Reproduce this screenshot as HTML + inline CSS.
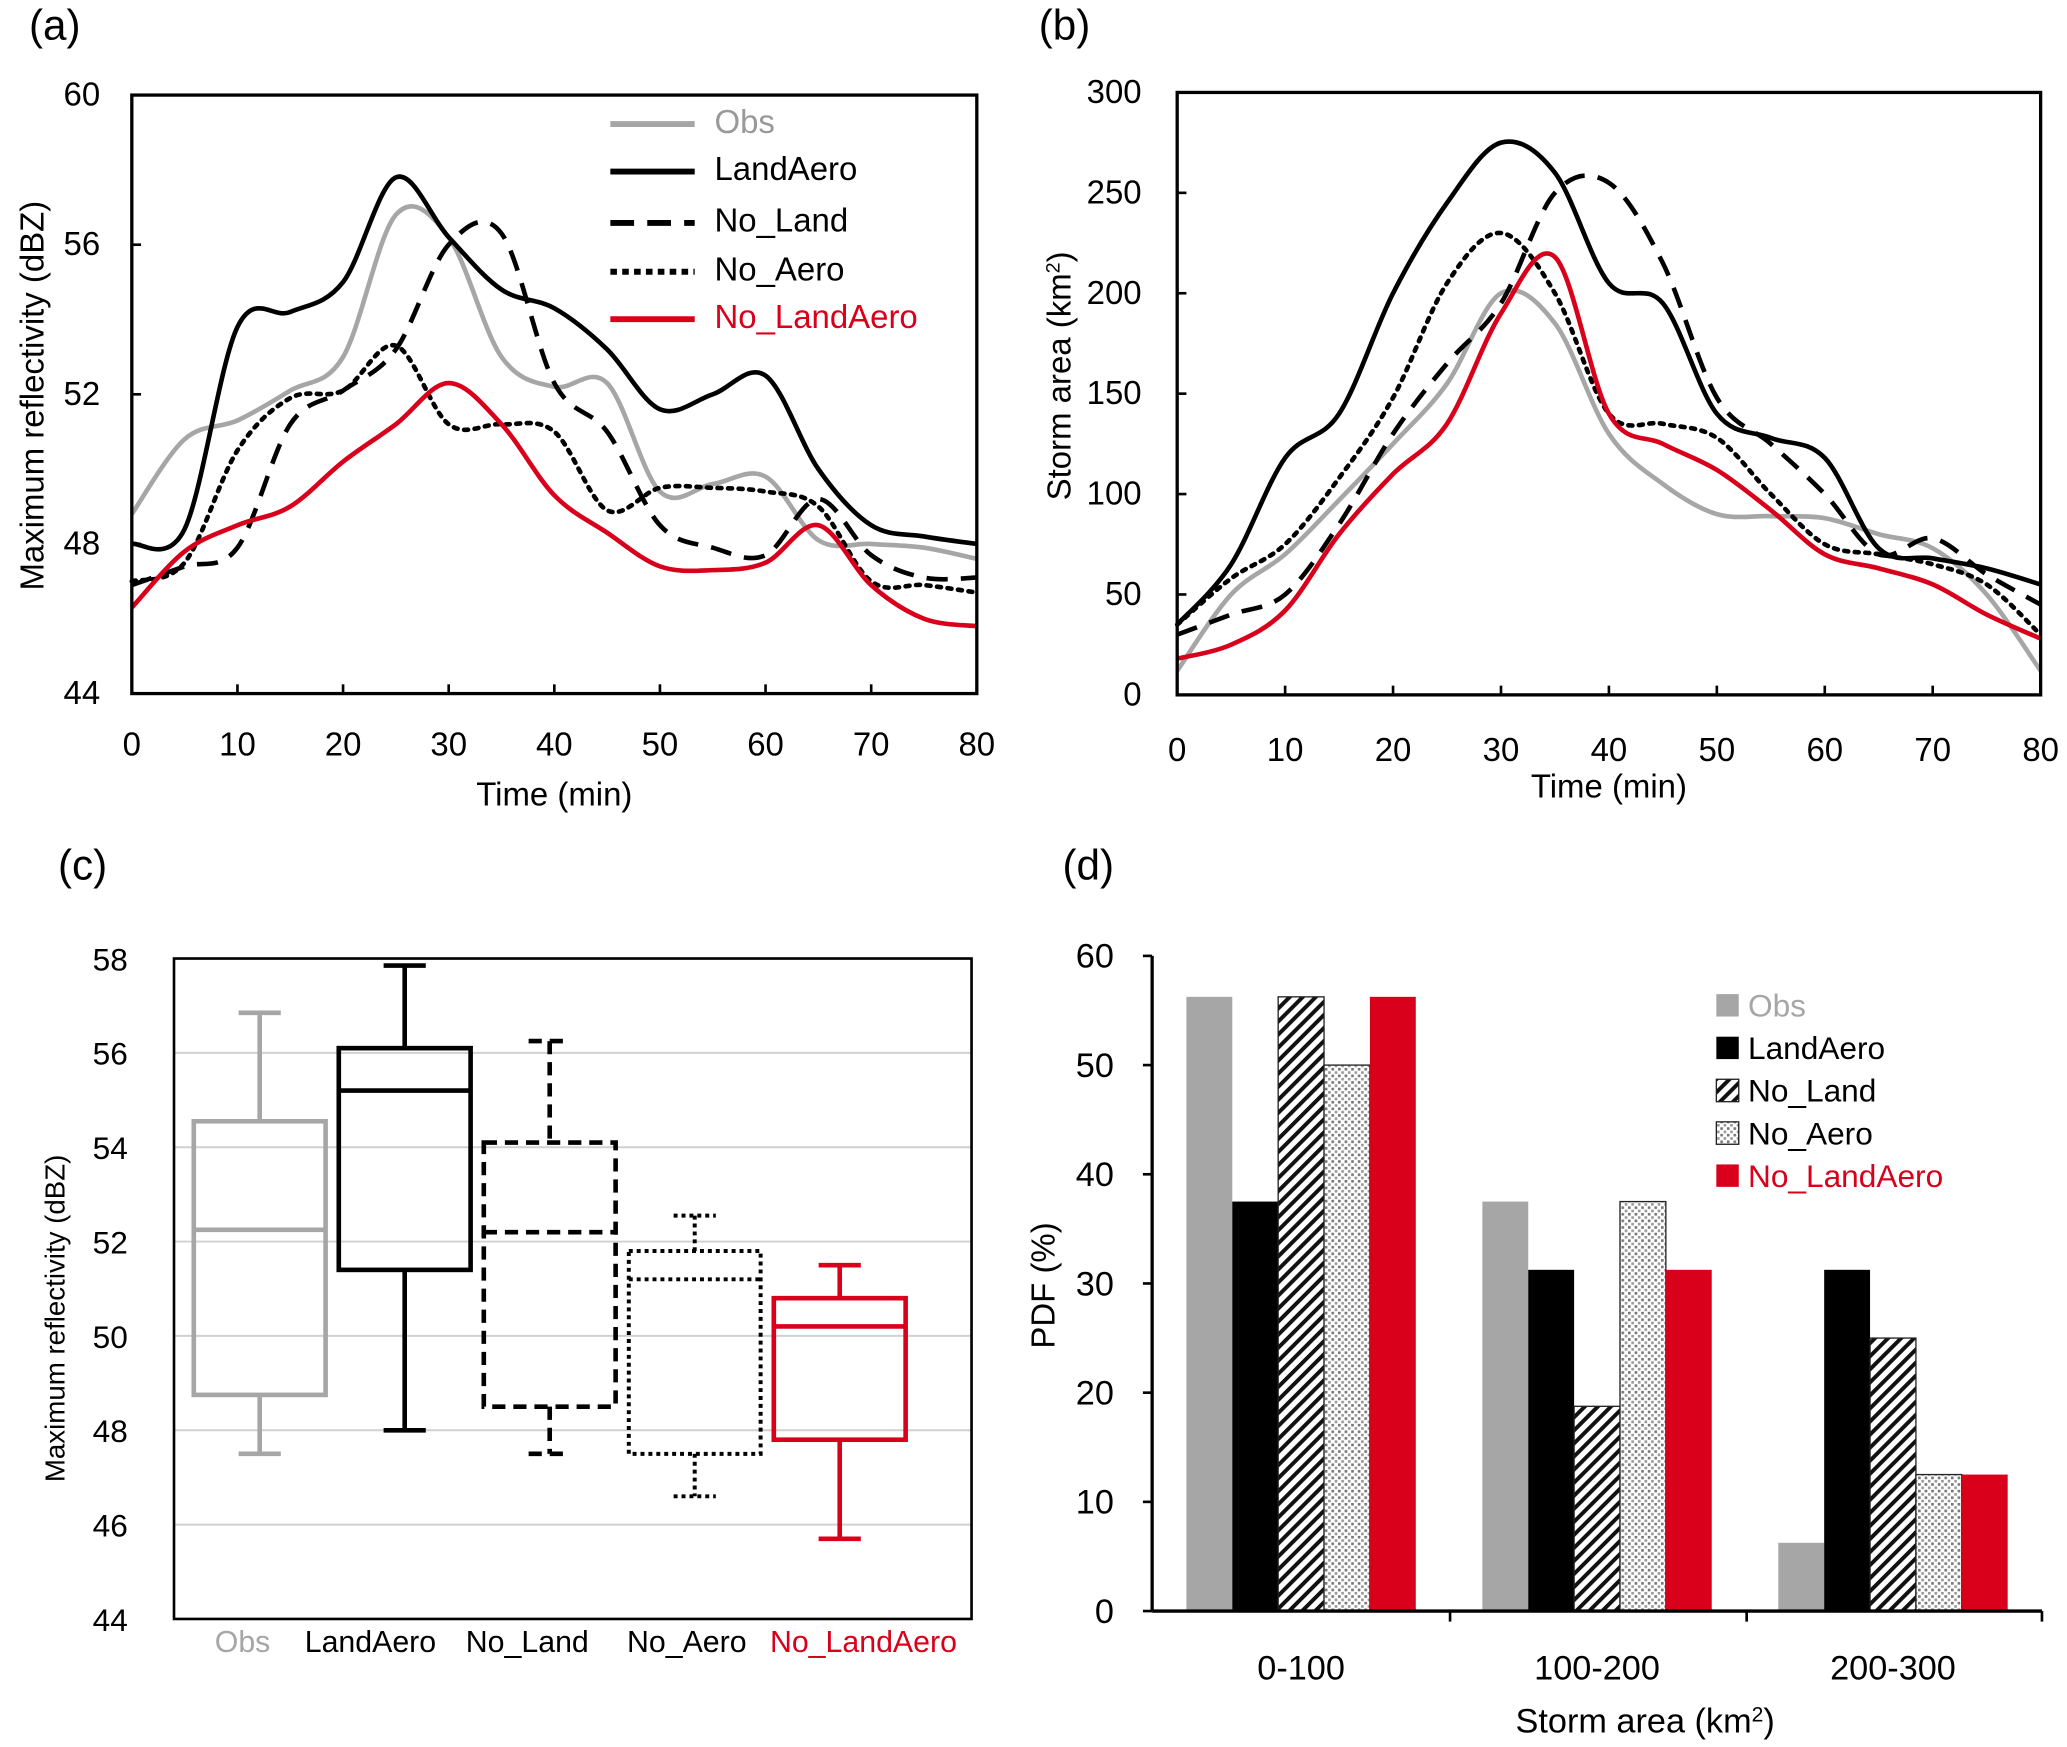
<!DOCTYPE html>
<html><head><meta charset="utf-8"><style>
html,body{margin:0;padding:0;background:#fff}
svg{display:block;font-family:"Liberation Sans",Arial,sans-serif}
</style></head><body>
<svg id="fig" width="2067" height="1747" viewBox="0 0 1568 1325" xmlns="http://www.w3.org/2000/svg">
<defs>
<pattern id="hatch" patternUnits="userSpaceOnUse" width="7" height="7" patternTransform="rotate(45)">
<rect width="7" height="7" fill="#fff"/><rect width="3" height="7" fill="#111"/></pattern>
<pattern id="dots" patternUnits="userSpaceOnUse" width="5" height="5">
<rect width="5" height="5" fill="#fff"/><rect x="0" y="0" width="2" height="2" fill="#777"/><rect x="2.5" y="2.5" width="2" height="2" fill="#999"/></pattern>
</defs>
<g id="gA"></g>
<g id="gB"></g>
<g id="gC"></g>
<g id="gD"></g>
</svg>
<script>
const times = [0,5,10,15,20,25,30,35,40,45,50,55,60,65,70,75,80];
const seriesNames = ["Obs","LandAero","No_Land","No_Aero","No_LandAero"];
const refl_Obs = [48.8,50.8,51.3,52.1,53.0,56.8,56.2,53.0,52.2,52.3,49.4,49.6,49.8,48.1,48.0,47.9,47.6];
const refl_LandAero = [48.0,48.4,53.8,54.2,55.0,57.8,56.2,54.8,54.3,53.2,51.6,52.0,52.5,50.0,48.5,48.2,48.0];
const refl_NoLand = [46.9,47.4,47.9,51.2,52.1,53.2,56.0,56.3,52.3,51.0,48.5,47.9,47.7,49.2,47.7,47.1,47.1];
const refl_NoAero = [47.0,47.5,50.5,51.9,52.1,53.3,51.2,51.2,51.0,48.9,49.5,49.5,49.4,49.0,47.0,46.9,46.7];
const refl_NoLandAero = [46.3,47.8,48.5,49.0,50.2,51.2,52.3,51.2,49.3,48.3,47.4,47.3,47.5,48.5,46.9,46.0,45.8];
const area_Obs = [12,50,70,97,125,155,200,185,130,105,90,89,88,80,73,50,12];
const area_LandAero = [35,65,118,140,200,245,275,260,205,195,140,128,118,73,68,63,55];
const area_NoLand = [30,40,50,85,130,165,195,250,255,215,148,125,100,70,78,60,45];
const area_NoAero = [35,58,75,108,148,205,230,200,140,135,128,100,75,70,65,55,30];
const area_NoLandAero = [18,25,42,80,110,135,190,218,140,125,112,92,70,63,55,40,28];
const boxCats = ["Obs","LandAero","No_Land","No_Aero","No_LandAero"];
const boxMin = [47.5,48.0,47.5,46.6,45.7];
const boxQ1 = [48.75,51.4,48.5,47.5,47.8];
const boxMed = [52.25,55.2,52.2,51.2,50.2];
const boxQ3 = [54.55,56.1,54.1,51.8,50.8];
const boxMax = [56.85,57.85,56.25,52.55,51.5];
const pdfGroups = ["0-100","100-200","200-300"];
const pdf_Obs = [56.25,37.5,6.25];
const pdf_LandAero = [37.5,31.25,31.25];
const pdf_NoLand = [56.25,18.75,25];
const pdf_NoAero = [50,37.5,12.5];
const pdf_NoLandAero = [56.25,31.25,12.5];
const tA = [44,48,52,56,60], tB=[0,50,100,150,200,250,300], tX=[0,10,20,30,40,50,60,70,80];
const tC=[44,46,48,50,52,54,56,58], tD=[0,10,20,30,40,50,60];

const NS="http://www.w3.org/2000/svg";
function mk(p,tag,at,txt){const e=document.createElementNS(NS,tag);for(const k in at)e.setAttribute(k,at[k]);if(txt!==undefined)e.textContent=txt;p.appendChild(e);return e;}
function smooth(pts){let d="M"+pts[0][0]+","+pts[0][1];for(let i=0;i<pts.length-1;i++){const p0=pts[i-1]||pts[i],p1=pts[i],p2=pts[i+1],p3=pts[i+2]||p2;
const c1=[p1[0]+(p2[0]-p0[0])/6,p1[1]+(p2[1]-p0[1])/6],c2=[p2[0]-(p3[0]-p1[0])/6,p2[1]-(p3[1]-p1[1])/6];d+=` C${c1[0]},${c1[1]} ${c2[0]},${c2[1]} ${p2[0]},${p2[1]}`;}return d;}
const styles=[{s:"#a6a6a6",d:""},{s:"#000",d:""},{s:"#000",d:"16 10"},{s:"#000",d:"3 5"},{s:"#d9001b",d:""}];
const names=["obs","landaero","no-land","no-aero","no-landaero"];

function linePanel(g,x0,x1,y0,y1,ymin,ymax,ticks,series,lab,labX,ylab,ylabX,xlabY,xtY,ytX){
 const sx=v=>x0+(v-0)/80*(x1-x0), sy=v=>y1-(v-ymin)/(ymax-ymin)*(y1-y0);
 series.forEach((arr,i)=>{const p=mk(g,"path",{d:smooth(times.map((t,j)=>[sx(t),sy(arr[j])])),fill:"none",stroke:styles[i].s,"stroke-width":3.5,"stroke-dasharray":styles[i].d,"stroke-linecap":i==3?"round":"butt"});
  
  });
 const f=mk(g,"rect",{x:x0,y:y0,width:x1-x0,height:y1-y0,fill:"none",stroke:"#000","stroke-width":2.5});
 
 tX.forEach(t=>{mk(g,"line",{x1:sx(t),x2:sx(t),y1:y1,y2:y1-7,stroke:"#000","stroke-width":2});
  const e=mk(g,"text",{x:sx(t),y:xtY,"font-size":25,"text-anchor":"middle"},t);});
 ticks.forEach(t=>{mk(g,"line",{x1:x0,x2:x0+7,y1:sy(t),y2:sy(t),stroke:"#000","stroke-width":2});
  const e=mk(g,"text",{x:ytX,y:sy(t)+8,"font-size":25,"text-anchor":"end"},t);});
 let e=mk(g,"text",{x:(x0+x1)/2,y:xlabY,"font-size":25,"text-anchor":"middle"},"Time (min)");
 e=mk(g,"text",{x:labX,y:30,"font-size":32},lab);
 return {sx,sy};
}
const gA=document.getElementById("gA"),gB=document.getElementById("gB"),gC=document.getElementById("gC"),gD=document.getElementById("gD");
linePanel(gA,100,741,72,526,44,60,tA,[refl_Obs,refl_LandAero,refl_NoLand,refl_NoAero,refl_NoLandAero],"(a)",22,null,0,611,573,76);
let yt=mk(gA,"text",{transform:"translate(33,300) rotate(-90)","font-size":25,"text-anchor":"middle"},"Maximum reflectivity (dBZ)");

seriesNames.forEach((n,i)=>{const y=[86,122,161,198,234][i];
 const lg=mk(gA,"g",{});
 mk(lg,"line",{x1:463,x2:527,y1:y+8,y2:y+8,stroke:styles[i].s,"stroke-width":4.5,"stroke-dasharray":i==2?"18 10":(i==3?"5 4":"")});
 mk(lg,"text",{x:542,y:y+8,"font-size":25,fill:i==0?"#999":(i==4?"#d9001b":"#000"),"dominant-baseline":"middle"},n);});
linePanel(gB,893,1548,70,527,0,300,tB,[area_Obs,area_LandAero,area_NoLand,area_NoAero,area_NoLandAero],"(b)",788,null,0,605,577,866);
yt=mk(gB,"text",{transform:"translate(812,285) rotate(-90)","font-size":25,"text-anchor":"middle"});
yt.innerHTML='Storm area (km<tspan baseline-shift="super" font-size="15">2</tspan>)';


// panel c
(function(){const x0=132,x1=737,y0=727,y1=1228,sy=v=>y1-(v-44)/14*(y1-y0);
 tC.forEach(t=>{if(t>44&&t<58){const l=mk(gC,"line",{x1:x0,x2:x1,y1:sy(t),y2:sy(t),stroke:"#d0d0d0","stroke-width":1.5});}
  const e=mk(gC,"text",{x:97,y:sy(t)+9,"font-size":24,"text-anchor":"end"},t);});
 const fr=mk(gC,"rect",{x:x0,y:y0,width:x1-x0,height:y1-y0,fill:"none",stroke:"#000","stroke-width":2});
 const cols=["#a6a6a6","#000","#000","#000","#d9001b"],dash=["","","10 6","3 3",""];
 boxCats.forEach((c,i)=>{const cx=197+i*110,g=mk(gC,"g",{stroke:cols[i],"stroke-width":i==3?3:3.5,fill:"none","stroke-dasharray":dash[i]});
  
  mk(g,"rect",{x:cx-50,y:sy(boxQ3[i]),width:100,height:sy(boxQ1[i])-sy(boxQ3[i])});
  mk(g,"line",{x1:cx-50,x2:cx+50,y1:sy(boxMed[i]),y2:sy(boxMed[i])});
  mk(g,"line",{x1:cx,x2:cx,y1:sy(boxMax[i]),y2:sy(boxQ3[i])});
  mk(g,"line",{x1:cx,x2:cx,y1:sy(boxQ1[i]),y2:sy(boxMin[i])});
  mk(g,"line",{x1:cx-16,x2:cx+16,y1:sy(boxMax[i]),y2:sy(boxMax[i])});
  mk(g,"line",{x1:cx-16,x2:cx+16,y1:sy(boxMin[i]),y2:sy(boxMin[i])});
  const e=mk(gC,"text",{x:[184,281,400,521,655][i],y:1253,"font-size":23,"text-anchor":"middle",fill:i==0?"#a6a6a6":(i==4?"#d9001b":"#000")},c);});
 let e=mk(gC,"text",{transform:"translate(49,1000) rotate(-90)","font-size":21,"text-anchor":"middle"},"Maximum reflectivity (dBZ)");
 e=mk(gC,"text",{x:44,y:667,"font-size":32},"(c)");
})();

// panel d
(function(){const x0=874,x1=1549,y0=725,y1=1222,sy=v=>y1-v/60*(y1-y0);
 const fills=["#a6a6a6","#000","url(#hatch)","url(#dots)","#d9001b"];
 const sers=[pdf_Obs,pdf_LandAero,pdf_NoLand,pdf_NoAero,pdf_NoLandAero];
 pdfGroups.forEach((gname,gi)=>{const gs=x0+26+gi*224.5;
  sers.forEach((s,i)=>{const r=mk(gD,"rect",{x:gs+i*34.8,y:sy(s[gi]),width:34.8,height:y1-sy(s[gi]),fill:fills[i],stroke:(i==2||i==3)?"#222":"none","stroke-width":1});
   });
  const e=mk(gD,"text",{x:gs+87,y:1274,"font-size":26,"text-anchor":"middle"},gname);});
 mk(gD,"line",{x1:x0,x2:x0,y1:y0,y2:y1,stroke:"#000","stroke-width":2.5});
 mk(gD,"line",{x1:x0,x2:x1,y1:y1,y2:y1,stroke:"#000","stroke-width":2.5});
 [1100,1325,1549].forEach(x=>mk(gD,"line",{x1:x,x2:x,y1:y1,y2:y1+8,stroke:"#000","stroke-width":2}));
 tD.forEach(t=>{mk(gD,"line",{x1:x0-7,x2:x0,y1:sy(t),y2:sy(t),stroke:"#000","stroke-width":2});
  const e=mk(gD,"text",{x:845,y:sy(t)+9,"font-size":26,"text-anchor":"end"},t);});
 seriesNames.forEach((n,i)=>{const y=762+i*32.3;const lg=mk(gD,"g",{});
  mk(lg,"rect",{x:1302,y:y-8,width:17,height:17,fill:fills[i],stroke:(i==2||i==3)?"#222":"none"});
  mk(lg,"text",{x:1326,y:y+9,"font-size":24,fill:i==0?"#a6a6a6":(i==4?"#d9001b":"#000")},n);});
 let e=mk(gD,"text",{transform:"translate(800,975) rotate(-90)","font-size":25,"text-anchor":"middle"},"PDF (%)");
 e=mk(gD,"text",{x:1248,y:1314,"font-size":26,"text-anchor":"middle"});e.innerHTML='Storm area (km<tspan baseline-shift="super" font-size="16">2</tspan>)';
 e=mk(gD,"text",{x:806,y:667,"font-size":32},"(d)");
})();
</script>
</body></html>
